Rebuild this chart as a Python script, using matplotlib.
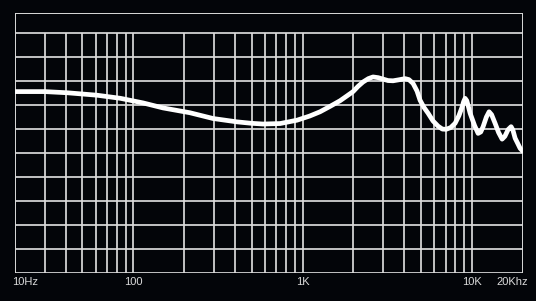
import matplotlib
matplotlib.use("Agg")
import matplotlib.pyplot as plt

# frequency response (Hz, dB-ish units; 5 units per grid row)
freq = [20, 30, 41, 61, 84, 114, 150, 216, 296, 410, 500, 584, 737, 928, 1100, 1269, 1450, 1667,
        1830, 1989, 2130, 2278, 2450, 2610, 2800, 2992, 3200, 3428, 3700, 4036, 4250, 4500, 4750,
        4950, 5220, 5520, 5900, 6325, 6700, 7052, 7500, 7972, 8400,
        8768, 8950, 9134, 9350, 9550, 9778, 10400, 10902, 11300, 11668, 12200, 12661, 13100,
        13738, 14400, 15112, 15700, 16400, 17082, 17500, 18040, 18700, 19302, 20000]
level = [37.7, 37.7, 37.45, 36.95, 36.3, 35.35, 34.3, 33.3, 32.1, 31.4, 31.1, 30.95, 31.05, 31.75, 32.6, 33.5, 34.6, 35.8,
         36.8, 37.7, 38.8, 39.7, 40.4, 40.75, 40.6, 40.3, 40.0, 39.95, 40.15, 40.4, 40.2, 39.4, 37.8,
         35.9, 34.4, 33.2, 31.6, 30.5, 29.9, 29.85, 30.2, 31.1, 32.7,
         34.5, 35.6, 36.3, 35.8, 34.6, 33.2, 30.6, 29.0, 29.3, 30.4, 32.4, 33.5, 32.9,
         31.1, 29.2, 27.8, 28.4, 29.8, 30.4, 29.7, 28.0, 26.9, 25.9, 25.3]

grid_freqs = [30, 40, 50, 60, 70, 80, 90, 100,
              200, 300, 400, 500, 600, 700, 800, 900, 1000,
              2000, 3000, 4000, 5000, 6000, 7000, 8000, 9000, 10000]
grid_levels = [0, 5, 10, 15, 20, 25, 30, 35, 40, 45, 50]
tick_freqs = [20, 100, 1000, 10000, 20000]
tick_labels = ['10Hz', '100', '1K', '10K', '20Khz']

bg = '#030509'
gc = '#dadada'

fig = plt.figure(figsize=(5.36, 3.01), dpi=100, facecolor=bg)
ax = fig.add_axes([15 / 536, (301 - 272.7) / 301, 507.7 / 536, (272.7 - 13.3) / 301])
ax.set_facecolor(bg)
ax.set_xscale('log')
ax.set_xlim(20, 20000)
ax.set_ylim(0, 54)
for s in ax.spines.values():
    s.set_visible(False)
ax.set_xticks([])
ax.set_yticks([])
ax.minorticks_off()

ax.vlines(grid_freqs, 0, 50, color=gc, lw=1.25)
ax.hlines(grid_levels, 20, 20000, color=gc, lw=1.25)
# outer frame
ax.vlines([20, 20000], 0, 54, color=gc, lw=1.4)
ax.hlines([54], 20, 20000, color=gc, lw=1.4)

ax.plot(freq, level, color='white', lw=3.4, solid_joinstyle='round',
        solid_capstyle='round', zorder=5)

for f, lab in zip(tick_freqs, tick_labels):
    ha = 'center'
    if f == 20:
        ha = 'left'
        f = 19.2
    elif f == 20000:
        ha = 'right'
        f = 21400
    ax.text(f, -0.036, lab, transform=ax.get_xaxis_transform(), ha=ha, va='center',
            color=gc, fontsize=8, family='Liberation Sans')

fig.savefig('out.png', dpi=100, facecolor=bg)
